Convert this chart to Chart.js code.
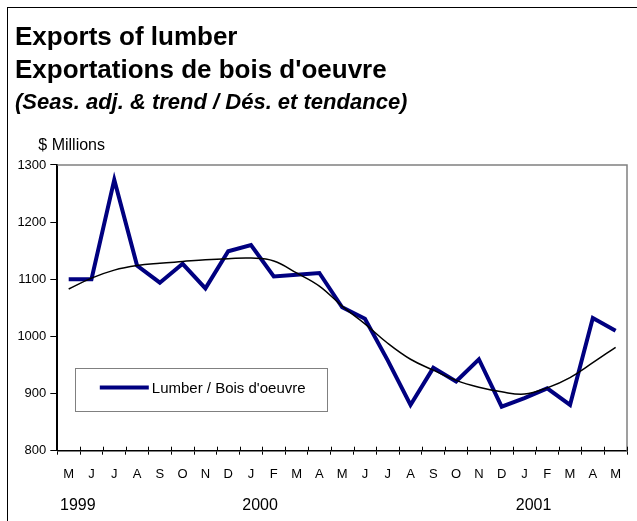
<!DOCTYPE html>
<html>
<head>
<meta charset="utf-8">
<script src="https://cdn.jsdelivr.net/npm/chart.js@4.4.1/dist/chart.umd.min.js"></script>
<style>
  html, body { margin: 0; padding: 0; background: #fff; }
  #wrap { width: 637px; height: 521px; position: relative; }
</style>
</head>
<body>
<div id="wrap"><canvas id="c" width="637" height="521"></canvas></div>
<script>
// ---- Data ----
const months = ['M','J','J','A','S','O','N','D','J','F','M','A','M','J','J','A','S','O','N','D','J','F','M','A','M'];
const lumber = [1100, 1100, 1274, 1124, 1094, 1127, 1084, 1149, 1160, 1105, 1108, 1111, 1051, 1031, 958, 880, 945, 921, 960, 877, 892, 909, 880, 1032, 1010];
const trend  = [1083, 1102, 1116, 1124, 1128, 1131, 1134, 1136, 1137, 1132, 1111, 1088, 1053, 1022, 988, 960, 941, 923, 911, 903, 899, 910, 928, 954, 981];
const yearLabels = ['1999', '2000', '2001'];
const yearStartIndex = [0, 8, 20];
const yMin = 800, yMax = 1300, yStep = 100;
const titleLines = ['Exports of lumber', "Exportations de bois d'oeuvre"];
const subtitleText = '(Seas. adj. & trend / Dés. et tendance)';
const unitText = '$ Millions';
const seriesLabel = "Lumber / Bois d'oeuvre";

const FONT = "'Liberation Sans', Arial, Helvetica, sans-serif";
Chart.defaults.font.family = FONT;
Chart.defaults.color = '#000';

const decor = {
  id: 'decor',
  beforeDraw(chart) {
    const ctx = chart.ctx;
    ctx.save();
    ctx.fillStyle = '#fff';
    ctx.fillRect(0, 0, chart.width, chart.height);
    ctx.strokeStyle = '#000';
    ctx.lineWidth = 1;
    ctx.strokeRect(7.5, 7.5, chart.width + 10, chart.height + 10);
    ctx.restore();
  },
  beforeDatasetsDraw(chart) {
    const ctx = chart.ctx, a = chart.chartArea;
    ctx.save();
    ctx.strokeStyle = '#808080';
    ctx.lineWidth = 1.5;
    ctx.beginPath();
    ctx.moveTo(a.left, a.top);
    ctx.lineTo(a.right, a.top);
    ctx.lineTo(a.right, a.bottom);
    ctx.stroke();
    ctx.restore();
  },
  afterDraw(chart) {
    const ctx = chart.ctx, a = chart.chartArea, xs = chart.scales.x;
    const n = months.length;
    const cw = (a.right - a.left) / n;
    ctx.save();
    // inward half of the cross tick marks on the category axis
    ctx.strokeStyle = '#000';
    ctx.lineWidth = 1;
    ctx.beginPath();
    for (let k = 0; k <= n; k++) {
      const x = Math.round(a.left + k * cw) + 0.5;
      ctx.moveTo(x, a.bottom);
      ctx.lineTo(x, a.bottom - 4);
    }
    ctx.stroke();
    // year labels
    ctx.fillStyle = '#000';
    ctx.font = '16px ' + FONT;
    ctx.textAlign = 'center';
    ctx.textBaseline = 'alphabetic';
    yearLabels.forEach((yl, i) => {
      const x = xs.getPixelForValue(yearStartIndex[i]) + 0.4 * cw;
      ctx.fillText(yl, x, a.bottom + 59);
    });
    // unit label
    ctx.font = '16px ' + FONT;
    ctx.textAlign = 'left';
    ctx.fillText(unitText, a.left - 19, a.top - 15);
    // legend box
    const ds = chart.data.datasets.find(d => d.showInLegend);
    const lx = a.left + 17.5, ly = a.top + 203.5, lw = 252, lh = 43;
    ctx.fillStyle = '#fff';
    ctx.fillRect(lx, ly, lw, lh);
    ctx.strokeStyle = '#808080';
    ctx.lineWidth = 1;
    ctx.strokeRect(Math.round(lx) + 0.5, Math.round(ly) + 0.5, lw, lh);
    ctx.strokeStyle = ds.borderColor;
    ctx.lineWidth = ds.borderWidth;
    ctx.beginPath();
    ctx.moveTo(lx + 25, ly + 19);
    ctx.lineTo(lx + 74, ly + 19);
    ctx.stroke();
    ctx.fillStyle = '#000';
    ctx.font = '15px ' + FONT;
    ctx.textAlign = 'left';
    ctx.fillText(ds.label, lx + 77, ly + 25);
    ctx.restore();
  }
};

new Chart(document.getElementById('c'), {
  type: 'line',
  data: {
    labels: months,
    datasets: [
      {
        label: seriesLabel,
        showInLegend: true,
        data: lumber,
        borderColor: '#000080',
        backgroundColor: '#000080',
        borderWidth: 4,
        borderJoinStyle: 'miter',
        pointRadius: 0,
        tension: 0,
        order: 1
      },
      {
        label: 'Trend',
        data: trend,
        borderColor: '#000',
        borderWidth: 1.5,
        pointRadius: 0,
        tension: 0.4,
        order: 0
      }
    ]
  },
  options: {
    responsive: false,
    animation: false,
    devicePixelRatio: 1,
    layout: { padding: { left: 15, right: 10, top: 0, bottom: 0 } },
    plugins: {
      legend: { display: false },
      tooltip: { enabled: false },
      title: {
        display: true,
        text: titleLines,
        align: 'start',
        color: '#000',
        font: { size: 26, weight: 'bold', lineHeight: 1.27 },
        padding: { top: 21.5, bottom: 0 }
      },
      subtitle: {
        display: true,
        text: subtitleText,
        align: 'start',
        color: '#000',
        font: { size: 22, weight: 'bold', style: 'italic', lineHeight: 1.2 },
        padding: { top: 2, bottom: 49 }
      }
    },
    scales: {
      x: {
        type: 'category',
        offset: true,
        grid: { offset: true, drawOnChartArea: false, tickLength: 4, color: '#000', lineWidth: 1 },
        border: { color: '#000', width: 1.5 },
        ticks: { autoSkip: false, maxRotation: 0, padding: 11.5, font: { size: 13 }, color: '#000' },
        afterFit(s) { s.height = 70.3; }
      },
      y: {
        min: yMin,
        max: yMax,
        ticks: { stepSize: yStep, padding: 4, font: { size: 13 }, color: '#000', callback: v => String(v) },
        grid: { drawOnChartArea: false, tickLength: 7, color: '#000', lineWidth: 1 },
        border: { color: '#000', width: 2 },
        afterFit(s) { s.width = 42.3; }
      }
    }
  },
  plugins: [decor]
});
</script>
</body>
</html>
